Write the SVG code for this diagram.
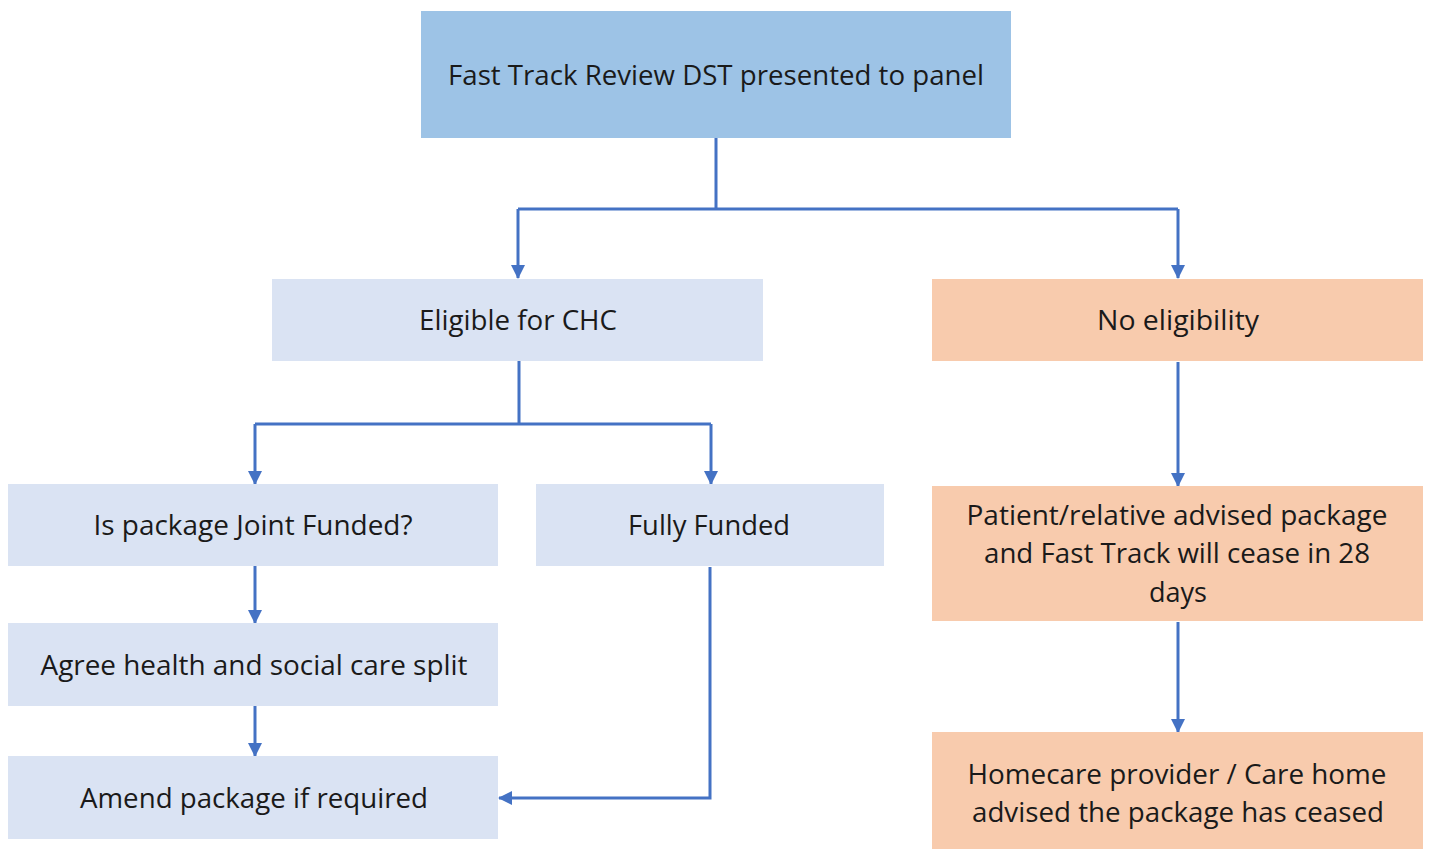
<svg xmlns="http://www.w3.org/2000/svg" width="1432" height="849" viewBox="0 0 1432 849">
  <style>
    .lbl { font-family: "Open Sans", "Liberation Sans", sans-serif; font-size: 27px; fill: #1a1a1a; text-anchor: middle; }
    .blue { fill: #9DC3E6; }
    .pale { fill: #DAE3F3; }
    .peach { fill: #F8CBAD; }
    .wire { fill: none; stroke: #4472C4; stroke-width: 3; }
  </style>
  <defs>
    <marker id="arrow" viewBox="0 0 14 14" refX="13" refY="7" markerWidth="14" markerHeight="14" markerUnits="userSpaceOnUse" orient="auto">
      <path d="M0,0 L14,7 L0,14 Z" fill="#4472C4"/>
    </marker>
  </defs>
  <rect width="1432" height="849" fill="#ffffff"/>

  <g id="connectors">
    <path class="wire" d="M716,138 V209 M518,209 H1178"/>
    <path class="wire" d="M518,209 V278" marker-end="url(#arrow)"/>
    <path class="wire" d="M1178,209 V278" marker-end="url(#arrow)"/>
    <path class="wire" d="M519,361 V424 M255,424 H711"/>
    <path class="wire" d="M255,424 V484" marker-end="url(#arrow)"/>
    <path class="wire" d="M711,424 V484" marker-end="url(#arrow)"/>
    <path class="wire" d="M255,566 V623" marker-end="url(#arrow)"/>
    <path class="wire" d="M255,706 V756" marker-end="url(#arrow)"/>
    <path class="wire" d="M710,567 V798 H499" marker-end="url(#arrow)"/>
    <path class="wire" d="M1178,362 V486" marker-end="url(#arrow)"/>
    <path class="wire" d="M1178,622 V732" marker-end="url(#arrow)"/>
  </g>

  <g id="review">
    <rect class="blue" x="421" y="11" width="590" height="127"/>
    <text class="lbl" x="716" y="85" textLength="536" lengthAdjust="spacingAndGlyphs">Fast Track Review DST presented to panel</text>
  </g>

  <g id="eligible">
    <rect class="pale" x="272" y="279" width="491" height="82"/>
    <text class="lbl" x="518" y="330" textLength="198" lengthAdjust="spacingAndGlyphs">Eligible for CHC</text>
  </g>

  <g id="no-eligibility">
    <rect class="peach" x="932" y="279" width="491" height="82"/>
    <text class="lbl" x="1178" y="330" textLength="162" lengthAdjust="spacingAndGlyphs">No eligibility</text>
  </g>

  <g id="joint-funded">
    <rect class="pale" x="8" y="484" width="490" height="82"/>
    <text class="lbl" x="253" y="535" textLength="319" lengthAdjust="spacingAndGlyphs">Is package Joint Funded?</text>
  </g>

  <g id="fully-funded">
    <rect class="pale" x="536" y="484" width="348" height="82"/>
    <text class="lbl" x="709" y="535" textLength="162" lengthAdjust="spacingAndGlyphs">Fully Funded</text>
  </g>

  <g id="agree-split">
    <rect class="pale" x="8" y="623" width="490" height="83"/>
    <text class="lbl" x="254" y="675" textLength="427" lengthAdjust="spacingAndGlyphs">Agree health and social care split</text>
  </g>

  <g id="amend-package">
    <rect class="pale" x="8" y="756" width="490" height="83"/>
    <text class="lbl" x="254" y="808" textLength="348" lengthAdjust="spacingAndGlyphs">Amend package if required</text>
  </g>

  <g id="patient-advised">
    <rect class="peach" x="932" y="486" width="491" height="135"/>
    <text class="lbl" x="1177" y="525" textLength="421" lengthAdjust="spacingAndGlyphs">Patient/relative advised package</text>
    <text class="lbl" x="1177" y="563" textLength="386" lengthAdjust="spacingAndGlyphs">and Fast Track will cease in 28</text>
    <text class="lbl" x="1178" y="602" textLength="58" lengthAdjust="spacingAndGlyphs">days</text>
  </g>

  <g id="provider-advised">
    <rect class="peach" x="932" y="732" width="491" height="117"/>
    <text class="lbl" x="1177" y="784" textLength="419" lengthAdjust="spacingAndGlyphs">Homecare provider / Care home</text>
    <text class="lbl" x="1178" y="822" textLength="412" lengthAdjust="spacingAndGlyphs">advised the package has ceased</text>
  </g>
</svg>
